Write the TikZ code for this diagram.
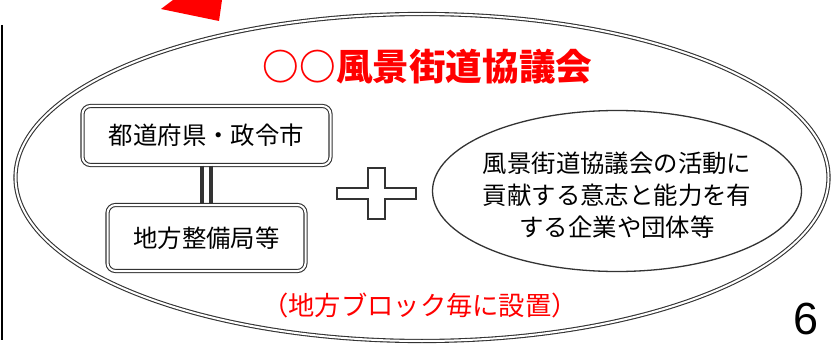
\documentclass[tikz,border=0pt]{standalone}
\usepackage{fontspec}
\setmainfont{Liberation Sans}
\newfontfamily\cjk{Noto Sans CJK JP}
\usetikzlibrary{shapes.geometric}
\definecolor{lg}{HTML}{333333}
\definecolor{rd}{HTML}{FF0000}
\begin{document}
\begin{tikzpicture}[x=1pt,y=-1pt,
  dbl/.style={draw=lg, line width=1.1pt, double=white, double distance=2pt},
  roundbox/.style={dbl, rectangle, rounded corners=8pt, inner sep=0pt, font=\cjk\fontsize{24.4}{30}\selectfont},
  bigell/.style={dbl, ellipse, inner sep=0pt},
  smallell/.style={ellipse, draw=lg, line width=1.3pt, inner sep=0pt, align=center, font=\cjk\fontsize{24.4}{32}\selectfont},
  title/.style={text=rd, font=\cjk\bfseries\fontsize{36.6}{40}\selectfont},
  note/.style={text=rd, font=\cjk\fontsize{26.3}{30}\selectfont},
  pagenum/.style={font=\fontsize{45}{50}\selectfont},
  link/.style={draw=lg, line width=4pt},
  plusline/.style={draw=lg, line width=1.6pt, fill=white}
]
\useasboundingbox (0,0) rectangle (832,350);

% red arrow tip (partial)
\fill[rd] (161,9) -- (173,0) -- (222,0) -- (219,21) -- cycle;
% left rule
\draw[line width=2pt, black] (2,25) -- (2,340);

% big ellipse
\node[bigell, minimum width=813pt, minimum height=327pt] (council) at (422,177.5) {};

\node[title] (ttl) at (427.5,67) {○○風景街道協議会};

\node[roundbox, minimum width=248pt, minimum height=59pt] (pref) at (206.5,135.5) {都道府県・政令市};
\node[roundbox, minimum width=198pt, minimum height=66pt] (region) at (206.5,238) {地方整備局等};

\draw[link] ([xshift=-4.5pt]pref.south) -- ([xshift=-4.5pt]region.north);
\draw[link] ([xshift=4.5pt]pref.south) -- ([xshift=4.5pt]region.north);

% plus sign
\coordinate (plus) at (376.5,193.5);
\draw[plusline] ([shift={(-8.5,-25.5)}]plus) -- ([shift={(8.5,-25.5)}]plus)
  -- ([shift={(8.5,-5.5)}]plus) -- ([shift={(39.5,-5.5)}]plus)
  -- ([shift={(39.5,5.5)}]plus) -- ([shift={(8.5,5.5)}]plus)
  -- ([shift={(8.5,25.5)}]plus) -- ([shift={(-8.5,25.5)}]plus)
  -- ([shift={(-8.5,5.5)}]plus) -- ([shift={(-39.5,5.5)}]plus)
  -- ([shift={(-39.5,-5.5)}]plus) -- ([shift={(-8.5,-5.5)}]plus) -- cycle;

\node[smallell, minimum width=369pt, minimum height=161pt] (org) at (617,191) {};
\node[align=center, font=\cjk\fontsize{24.4}{32}\selectfont] (orgtext) at (617,195)
  {風景街道協議会の活動に\\貢献する意志と能力を有\\する企業や団体等};

\node[note] (place) at (420,305) {（地方ブロック毎に設置）};

\node[pagenum] (pg) at (806,319) {6};
\end{tikzpicture}
\end{document}
